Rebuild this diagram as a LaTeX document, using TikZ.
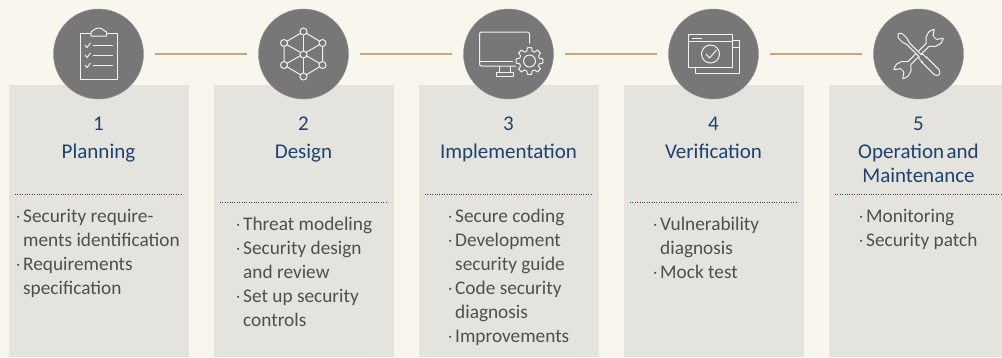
\documentclass[tikz,border=0pt]{standalone}
\usepackage{fontspec}
\setmainfont{Carlito}
\definecolor{pagebg}{HTML}{F9F6EE}
\definecolor{boxbg}{HTML}{E4E3DE}
\definecolor{disc}{HTML}{777777}
\definecolor{tan}{HTML}{C9A877}
\definecolor{navy}{HTML}{1C4370}
\definecolor{ink}{HTML}{4F4F4F}
\newcommand{\itm}{\llap{$\cdot$\hspace{2pt}}}
\begin{document}
\begin{tikzpicture}[
        x = 1pt, y = -1pt,
        stage/.style = {fill = boxbg, anchor = north west, inner sep = 0mm, minimum width = 180pt, minimum height = 272pt},
        disc/.style = {circle, fill = disc, draw = disc!80!white, line width = 0.4pt, inner sep = 0mm, minimum size = 90pt},
        link/.style = {draw = tan, line width = 1.1pt, shorten > = 11.5pt, shorten < = 11.5pt},
        rule/.style = {draw = navy, line width = 0.9pt, dash pattern = on 1pt off 1.4pt},
        num/.style = {anchor = base, inner sep = 0mm, text = navy, font = \fontsize{21}{24}\selectfont},
        title/.style = {anchor = base, inner sep = 0mm, align = center, text = navy, font = \fontsize{21}{24}\selectfont},
        items/.style = {anchor = north west, inner sep = 0mm, align = left, text = ink, font = \fontsize{19.3}{24}\selectfont},
        icon/.style = {draw = white!90!disc, line width = 1pt, line join = round},
        hub/.style = {circle, draw = white!90!disc, fill = disc, line width = 1pt, inner sep = 0mm, minimum size = 7pt},
    ]
    \useasboundingbox[fill = pagebg] (0,0) rectangle (1002,357);

    \node (s1) [stage] at (9,85) {};
    \node (s2) [stage] at (214,85) {};
    \node (s3) [stage] at (419,85) {};
    \node (s4) [stage] at (624,85) {};
    \node (s5) [stage, minimum width = 173pt] at (829,85) {};

    \node (c1) [disc] at (98.5,54) {};
    \node (c2) [disc] at (303.5,54) {};
    \node (c3) [disc] at (508.5,54) {};
    \node (c4) [disc] at (713.5,54) {};
    \node (c5) [disc] at (918.5,54) {};

    \path[link] (c1) -- (c2);
    \path[link] (c2) -- (c3);
    \path[link] (c3) -- (c4);
    \path[link] (c4) -- (c5);

    \node (n1) [num] at (98.5,130) {1};
    \node (n2) [num] at (303.5,130) {2};
    \node (n3) [num] at (508.5,130) {3};
    \node (n4) [num] at (713.5,130) {4};
    \node (n5) [num] at (918.5,130) {5};

    \node (t1) [title] at (98.5,158) {Planning};
    \node (t2) [title] at (303.5,158) {Design};
    \node (t3) [title] at (508.5,158) {Implementation};
    \node (t4) [title] at (713.5,158) {Verification};
    \node (t5) [title] at (918.5,158) {Operation\hspace{2.5pt}and};
    \node (t5b) [title] at (918.5,182) {Maintenance};

    \coordinate (r1a) at (15,194);
    \coordinate (r1b) at (183,194);
    \coordinate (r2a) at (220,202);
    \coordinate (r2b) at (388,202);
    \coordinate (r3a) at (425,194);
    \coordinate (r3b) at (593,194);
    \coordinate (r4a) at (630,202);
    \coordinate (r4b) at (798,202);
    \coordinate (r5a) at (835,194);
    \coordinate (r5b) at (1002,194);
    \path[rule] (r1a) -- (r1b);
    \path[rule] (r2a) -- (r2b);
    \path[rule] (r3a) -- (r3b);
    \path[rule] (r4a) -- (r4b);
    \path[rule] (r5a) -- (r5b);

    \node (l1) [items] at (23,209) {\itm Security require-\\ments identification\\\itm Requirements\\specification};
    \node (l2) [items] at (243,217) {\itm Threat modeling\\\itm Security design\\and review\\\itm Set up security\\controls};
    \node (l3) [items] at (455,209) {\itm Secure coding\\\itm Development\\security guide\\\itm Code security\\diagnosis\\\itm Improvements};
    \node (l4) [items] at (660,217) {\itm Vulnerability\\diagnosis\\\itm Mock test};
    \node (l5) [items] at (866,209) {\itm Monitoring\\\itm Security patch};

    % clipboard
    \draw[icon] (91,33) -- (80,33) -- (80,79.5) -- (117.5,79.5) -- (117.5,33) -- (107,33);
    \draw[icon] (91,36) -- (91,32) .. controls (94,31) and (94,28) .. (99,28) .. controls (103,28) and (103,31) .. (106.5,32) -- (106.5,36) -- cycle;
    \draw[icon] (85,45) -- (87,47.5) -- (90.5,43);
    \draw[icon] (85,55) -- (87,57.5) -- (90.5,53);
    \draw[icon] (85,65) -- (87,67.5) -- (90.5,63);
    \draw[icon, line width = 1.3pt] (93,45.7) -- (113,45.7);
    \draw[icon, line width = 1.3pt] (93,55.7) -- (113,55.7);
    \draw[icon, line width = 1.3pt] (93,65.7) -- (113,65.7);

    % cube of hubs
    \coordinate (g0) at (303.5,54.5);
    \draw[icon] (303.5,31.5) -- (322.5,43) -- (322.5,65) -- (303.5,76.5) -- (284,65) -- (284,43) -- cycle;
    \draw[icon] (303.5,31.5) -- (303.5,76.5);
    \draw[icon] (284,43) -- (322.5,65);
    \draw[icon] (322.5,43) -- (284,65);
    \node (h0) [hub] at (g0) {};
    \node (h1) [hub] at (303.5,31.5) {};
    \node (h2) [hub] at (322.5,43) {};
    \node (h3) [hub] at (322.5,65) {};
    \node (h4) [hub] at (303.5,76.5) {};
    \node (h5) [hub] at (284,65) {};
    \node (h6) [hub] at (284,43) {};

    % monitor and gear
    \draw[icon, rounded corners = 2pt] (529.5,43.5) -- (529.5,32) -- (479.5,32) -- (479.5,66) -- (516,66);
    \draw[icon] (480,61) -- (513,61);
    \draw[icon] (499.5,66) -- (499.5,72);
    \draw[icon] (510,66) -- (510,72);
    \draw[icon] (496,72.5) rectangle (513.5,76);
    \draw[icon] (529.5,61) circle (6pt);
    \foreach \a in {0,45,...,315}
        \draw[icon, shift = {(529.5,61)}] (\a-15:10.3pt) -- (\a-9:13.5pt) -- (\a+9:13.5pt) -- (\a+15:10.3pt) arc[start angle = \a+15, end angle = \a+30, radius = 10.3pt];

    % windows with check
    \draw[icon] (688.5,34.5) rectangle (732.5,67.5);
    \draw[icon] (688.5,41) -- (732.5,41);
    \draw[icon] (692,38) -- (702,38);
    \draw[icon] (732.5,40.5) -- (739,40.5) -- (739,73.5) -- (695,73.5) -- (695,67.5);
    \draw[icon] (732.5,47) -- (739,47);
    \draw[icon] (710.5,54) circle (9pt);
    \draw[icon] (706,54) -- (709.5,58) -- (716.5,50);

    % spanner and screwdriver
    \begin{scope}[shift = {(918.5,54)}, rotate = 45]
        \draw[icon, rounded corners = 0.8pt] (-13,-2) -- (13,-2) -- (17,-6.5) -- (23,-8.5) -- (29,-6.5) -- (23,-2.5) -- (23,2.5) -- (29,6.5) -- (23,8.5) -- (17,6.5) -- (13,2) -- (-13,2) -- (-17,6.5) -- (-23,8.5) -- (-29,6.5) -- (-23,2.5) -- (-23,-2.5) -- (-29,-6.5) -- (-23,-8.5) -- (-17,-6.5) -- cycle;
    \end{scope}
    \begin{scope}[shift = {(918.5,54)}, rotate = -45]
        \draw[icon, fill = disc, rounded corners = 0.8pt] (-29,0) -- (-26,-3) -- (-19,-3) -- (-15,-1.5) -- (3,-1.5) -- (3,-3) -- (8,-3) -- (8,-3.5) -- (26,-3.5) -- (29,-1.5) -- (29,1.5) -- (26,3.5) -- (8,3.5) -- (8,3) -- (3,3) -- (3,1.5) -- (-15,1.5) -- (-19,3) -- (-26,3) -- cycle;
    \end{scope}
\end{tikzpicture}
\end{document}
